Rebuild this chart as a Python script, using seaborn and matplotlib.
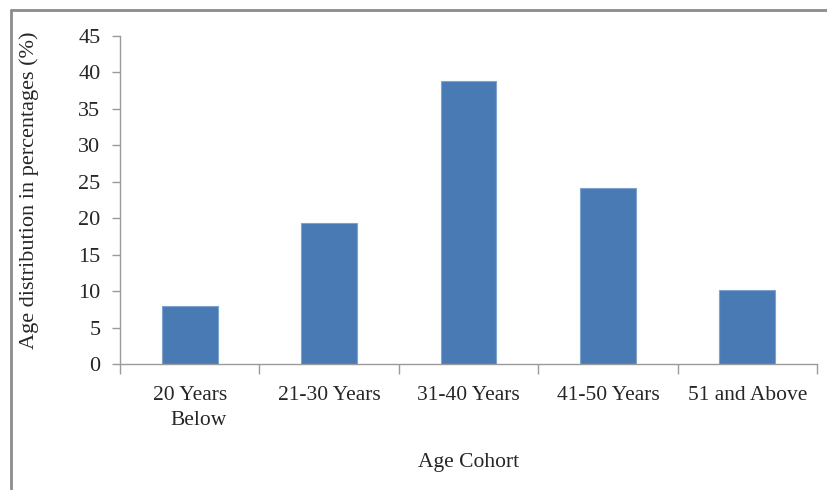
import matplotlib
matplotlib.use('Agg')
import matplotlib.pyplot as plt
from matplotlib.lines import Line2D
import seaborn as sns
import pandas as pd

cohorts = ['20 Years\nBelow', '21-30 Years', '31-40 Years', '41-50 Years', '51 and Above']
share = [8.0, 19.4, 38.8, 24.1, 10.1]
y_ticks = [0, 5, 10, 15, 20, 25, 30, 35, 40, 45]


def _plot(save_path):
    df = pd.DataFrame({'cohort': cohorts, 'share': share})
    sns.set_style('white')
    plt.rcParams['font.family'] = ['Liberation Serif', 'DejaVu Serif']

    fig = plt.figure(figsize=(8.27, 4.9), dpi=100)
    ax = fig.add_axes([120 / 827, 1 - 364 / 490, 697 / 827, 328 / 490])
    sns.barplot(data=df, x='cohort', y='share', color='#4A7AB4', width=0.4,
                edgecolor='#7FA3CF', linewidth=0.8, saturation=1, ax=ax)

    ax.set_ylim(0, 45)
    ax.set_yticks(y_ticks)
    ax.set_xlim(-0.5, len(cohorts) - 0.5)
    ax.set_xticks(range(len(cohorts)))
    ax.set_xticklabels(cohorts, fontsize=15.5, multialignment='right', linespacing=1.4)
    ax.tick_params(axis='x', which='major', bottom=True, length=0, pad=16)
    ax.set_xticks([i - 0.5 for i in range(len(cohorts) + 1)], minor=True)
    ax.tick_params(axis='x', which='minor', bottom=True, length=7, color='#9a9a9a', width=1)
    ax.tick_params(axis='y', left=True, length=6, color='#9a9a9a', width=1, labelsize=16, pad=8)

    for side in ['top', 'right']:
        ax.spines[side].set_visible(False)
    for side in ['left', 'bottom']:
        ax.spines[side].set_color('#9a9a9a')
        ax.spines[side].set_linewidth(1)

    ax.set_xlabel('Age Cohort', fontsize=15.5, labelpad=17)
    ax.set_ylabel('Age distribution in percentages (%)', fontsize=16, labelpad=28)
    ax.yaxis.label.set_y(0.53)

    # outer frame (only top and left edges visible in the crop)
    fig.add_artist(Line2D([11 / 827, 11 / 827], [0, 1 - 10 / 490], transform=fig.transFigure,
                          color='#8c8c8c', linewidth=2))
    fig.add_artist(Line2D([11 / 827, 1], [1 - 10 / 490, 1 - 10 / 490], transform=fig.transFigure,
                          color='#8c8c8c', linewidth=2))

    fig.savefig(save_path, dpi=100)


_plot('out.png')
